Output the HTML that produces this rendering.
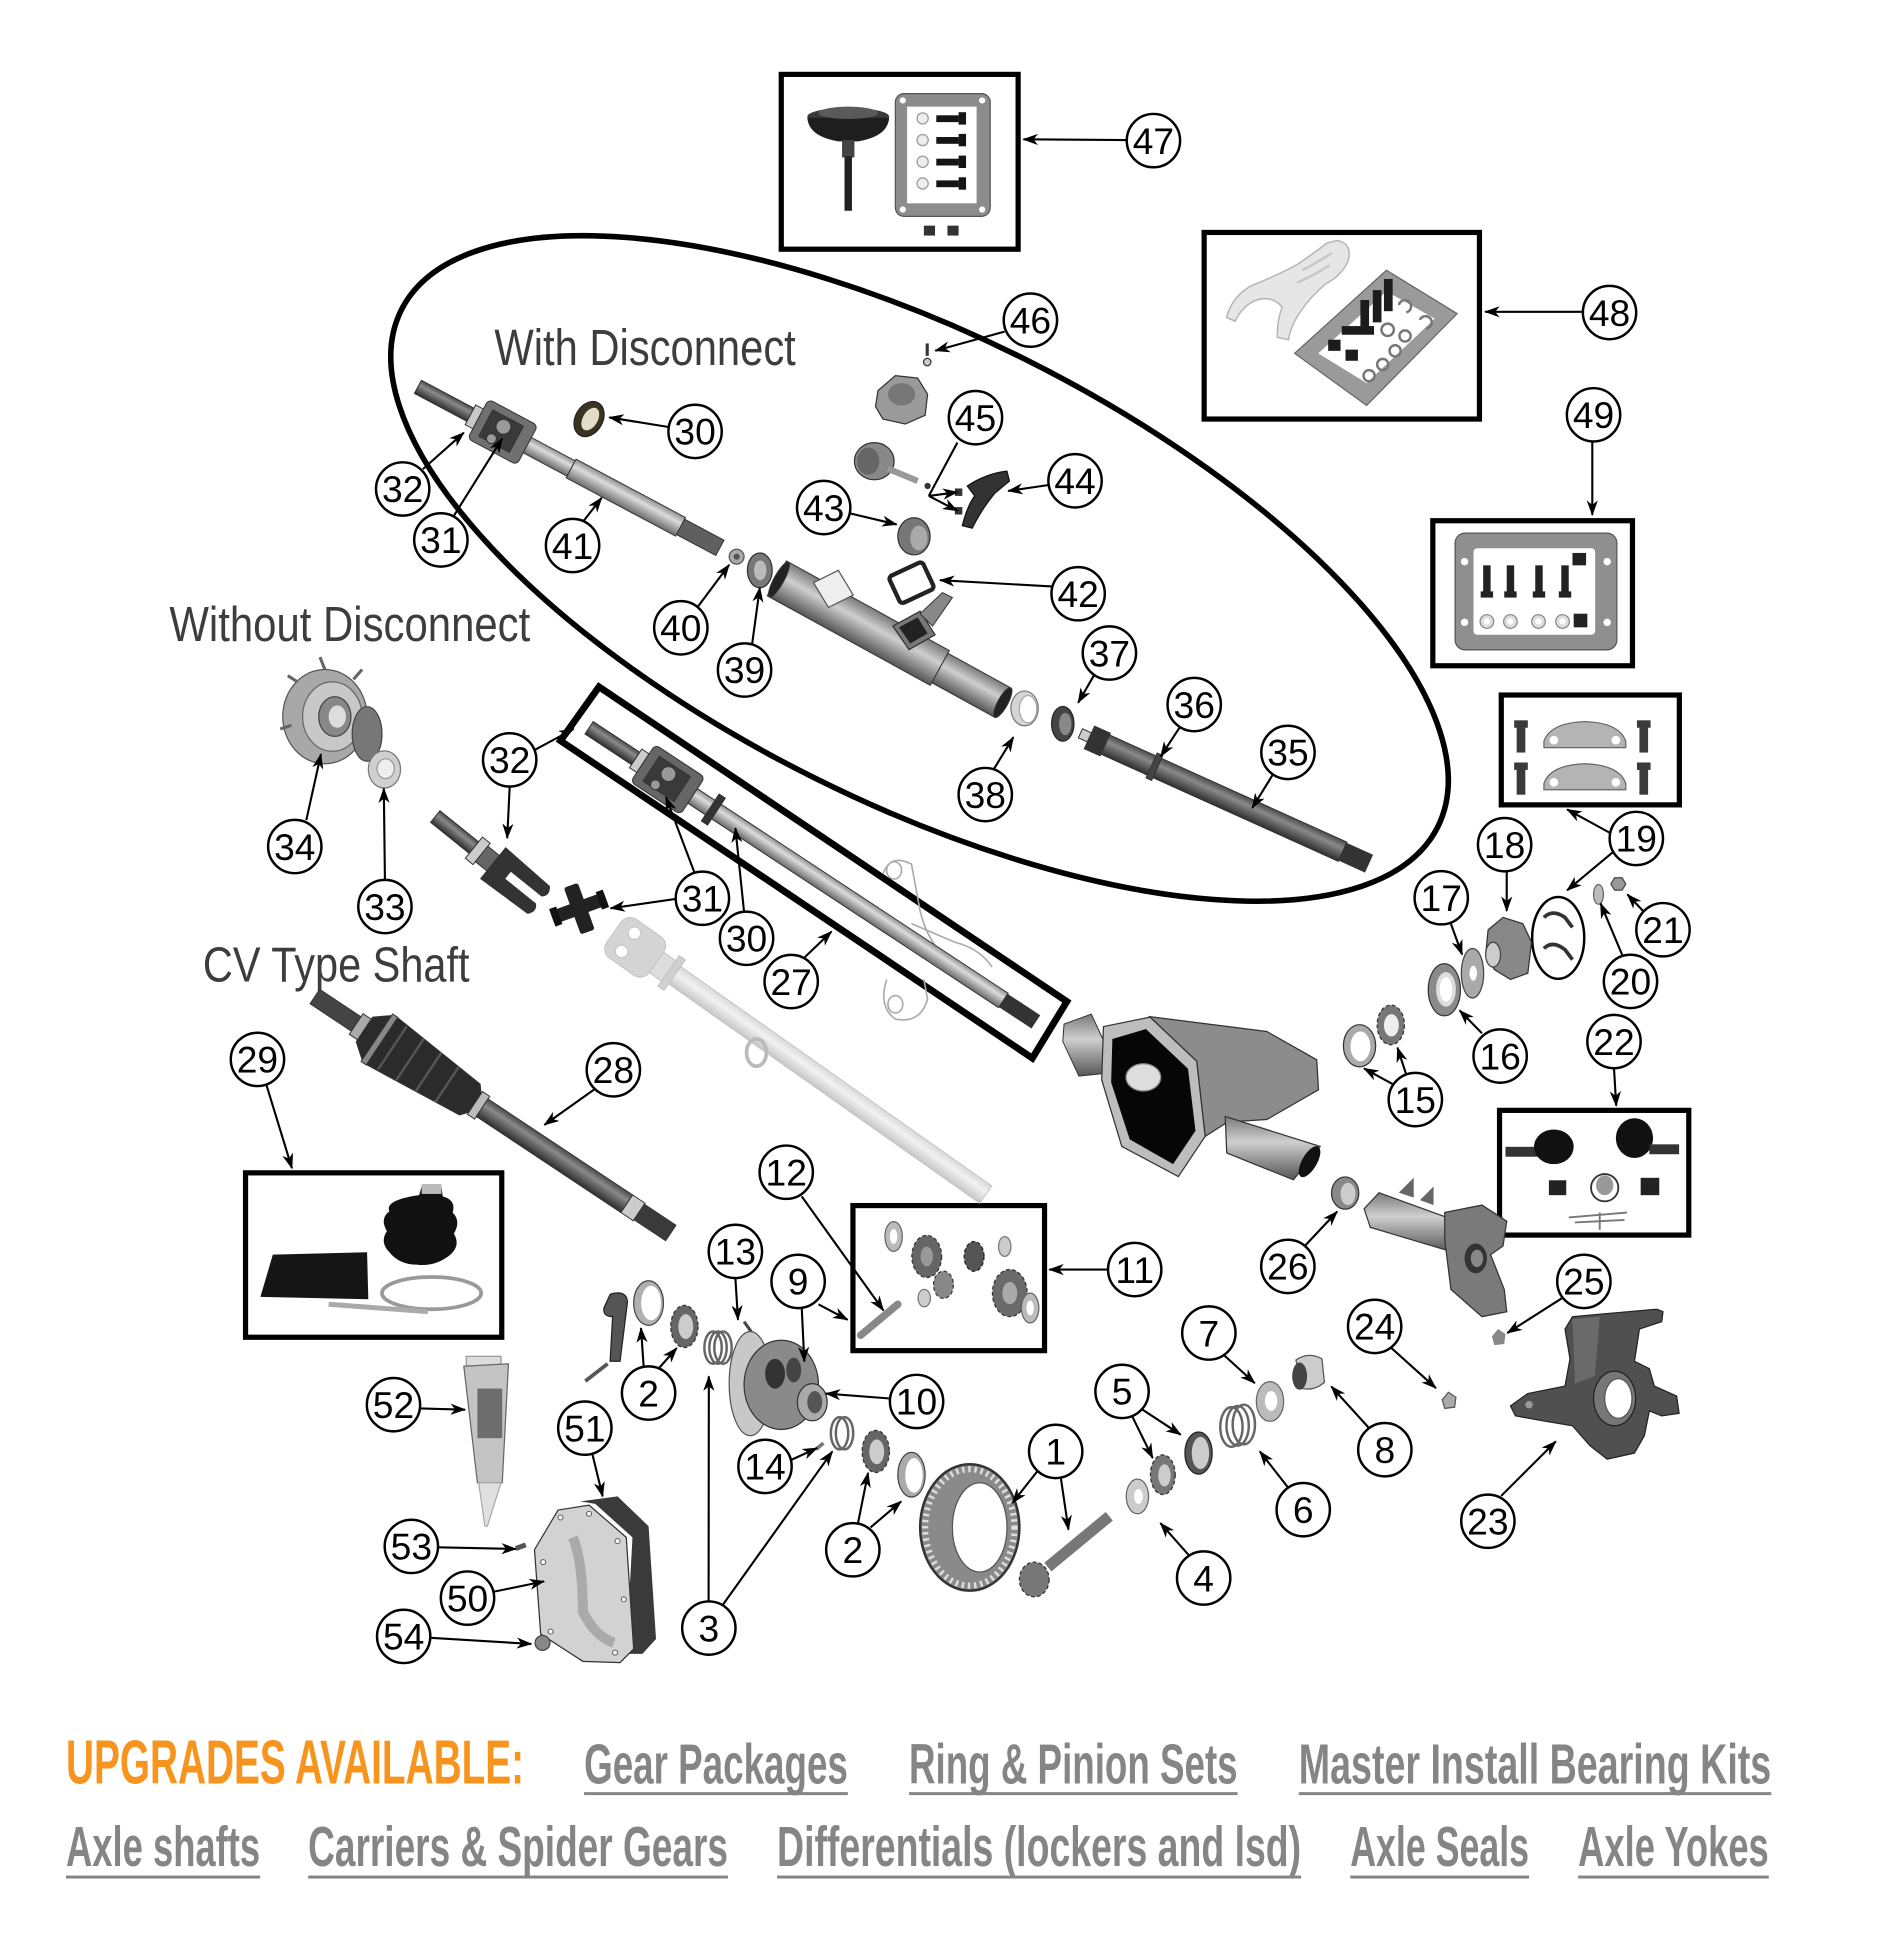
<!DOCTYPE html>
<html><head><meta charset="utf-8"><style>
html,body{margin:0;padding:0;background:#fff}
svg{display:block}
.c{fill:#fff;stroke:#000;stroke-width:2}
.t{font-family:"Liberation Sans",Arial,sans-serif;font-size:30px;text-anchor:middle;fill:#000}
.k{stroke:#000;stroke-width:1.7;fill:none;marker-end:url(#a)}
.k0{stroke:#000;stroke-width:1.7;fill:none}
.b{fill:none;stroke:#000;stroke-width:4.2}
.p{stroke:#333;stroke-width:.8}
.h{font-family:"Liberation Sans",Arial,sans-serif;fill:#3d3d3d}
.u{font-family:"Liberation Sans",Arial,sans-serif;font-weight:bold;font-size:46px;fill:#858585}
</style></head><body>
<svg width="1880" height="1944" viewBox="0 0 1516 1568" preserveAspectRatio="none" xmlns="http://www.w3.org/2000/svg">
<defs>
<marker id="a" viewBox="0 0 14 10" refX="13" refY="5" markerWidth="13" markerHeight="9" markerUnits="userSpaceOnUse" orient="auto"><path d="M0,0 L14,5 L0,10 L4,5z" fill="#000"/></marker>
<linearGradient id="gM" x1="0" y1="0" x2="0" y2="1"><stop offset="0" stop-color="#8f8f8f"/><stop offset=".35" stop-color="#dcdcdc"/><stop offset="1" stop-color="#6a6a6a"/></linearGradient>
<linearGradient id="gD" x1="0" y1="0" x2="0" y2="1"><stop offset="0" stop-color="#4a4a4a"/><stop offset=".35" stop-color="#8a8a8a"/><stop offset="1" stop-color="#2e2e2e"/></linearGradient>
<linearGradient id="gK" x1="0" y1="0" x2="0" y2="1"><stop offset="0" stop-color="#1a1a1a"/><stop offset=".4" stop-color="#4a4a4a"/><stop offset="1" stop-color="#0a0a0a"/></linearGradient>
<linearGradient id="gL" x1="0" y1="0" x2="0" y2="1"><stop offset="0" stop-color="#d8d8d8"/><stop offset=".4" stop-color="#f2f2f2"/><stop offset="1" stop-color="#c6c6c6"/></linearGradient>
<linearGradient id="gT" x1="0" y1="0" x2="0" y2="1"><stop offset="0" stop-color="#7a7a7a"/><stop offset=".4" stop-color="#cfcfcf"/><stop offset="1" stop-color="#555"/></linearGradient>
</defs>

<!-- Big ellipse -->
<ellipse cx="741.5" cy="458.5" rx="467" ry="189" transform="rotate(26.5 741.5 458.5)" fill="none" stroke="#000" stroke-width="4.5"/>

<!-- Headings -->
<text class="h" x="398.7" y="294.6" font-size="41" textLength="243" lengthAdjust="spacingAndGlyphs">With Disconnect</text>
<text class="h" x="136.6" y="517" font-size="40" textLength="291" lengthAdjust="spacingAndGlyphs">Without Disconnect</text>
<text class="h" x="163.6" y="791.7" font-size="40" textLength="215" lengthAdjust="spacingAndGlyphs">CV Type Shaft</text>

<!-- Box 47 -->
<rect class="b" x="630" y="60" width="191" height="141"/>
<ellipse cx="684" cy="94" rx="33" ry="7" fill="#3a3a3a"/>
<path d="M651,95 Q652,110 676,114 L692,114 Q716,110 717,95 Z" fill="#1e1e1e"/>
<ellipse cx="684" cy="91" rx="24" ry="5" fill="#5a5a5a"/>
<rect x="679" y="113" width="10" height="14" fill="#444"/>
<rect x="681" y="126" width="6" height="44" fill="#222"/>
<rect x="722" y="75.5" width="76.5" height="99" rx="7" fill="#8c8c8c" stroke="#555"/>
<rect x="731.5" y="86" width="56" height="78" fill="#fff"/>
<circle cx="728" cy="81" r="2.5" fill="#fff"/><circle cx="792" cy="81" r="2.5" fill="#fff"/><circle cx="728" cy="169" r="2.5" fill="#fff"/><circle cx="792" cy="169" r="2.5" fill="#fff"/>
<g fill="#151515">
<rect x="755" y="93" width="18" height="5.5"/><rect x="773" y="90.5" width="6" height="10"/>
<rect x="755" y="110.5" width="18" height="5.5"/><rect x="773" y="108" width="6" height="10"/>
<rect x="755" y="128" width="18" height="5.5"/><rect x="773" y="125.5" width="6" height="10"/>
<rect x="755" y="145.5" width="18" height="5.5"/><rect x="773" y="143" width="6" height="10"/>
</g>
<g fill="#eee" stroke="#999"><circle cx="744" cy="95.5" r="4.5"/><circle cx="744" cy="113" r="4.5"/><circle cx="744" cy="130.5" r="4.5"/><circle cx="744" cy="148" r="4.5"/></g>
<rect x="745" y="182" width="9" height="8" fill="#333"/><rect x="764" y="182" width="9" height="8" fill="#333"/>

<!-- Box 48 -->
<rect class="b" x="971" y="187.5" width="222" height="150.5"/>
<path d="M1078,194 Q1091,196 1087,211 Q1081,223 1069,229 Q1056,240 1049,251 Q1041,262 1039,274 L1030,272 Q1030,257 1034,248 Q1028,240 1018,241 Q1004,243 996,259 L989,256 Q994,238 1010,230 Q1030,222 1045,214 Q1060,204 1070,196 Z" fill="#e6e6e6" stroke="#b5b5b5" stroke-width="1.2"/>
<path d="M1050,218 Q1062,212 1074,204 M1046,228 Q1060,222 1072,214" stroke="#c8c8c8" stroke-width="2" fill="none"/>
<polygon points="1044,285 1118,218 1175,253 1102,327" fill="#9a9a9a" stroke="#666"/>
<polygon points="1063,285 1118,235 1157,257 1102,309" fill="#fff"/>
<g fill="#1c1c1c"><rect x="1097" y="242" width="7" height="26"/><rect x="1107" y="234" width="7" height="26"/><rect x="1116" y="225" width="7" height="26"/><rect x="1082" y="263" width="26" height="7"/><rect x="1071" y="274" width="10" height="9"/><rect x="1085" y="282" width="10" height="9"/></g>
<g fill="none" stroke="#777" stroke-width="2"><circle cx="1119" cy="266" r="5"/><circle cx="1133" cy="271" r="4.5"/><circle cx="1125" cy="283" r="4.5"/><circle cx="1115" cy="294" r="4.5"/><circle cx="1104" cy="303" r="4.5"/><path d="M1128,246 a5,5 0 1 1 6,6"/><path d="M1145,258 a5,5 0 1 1 5,7"/></g>

<!-- Box 49 -->
<rect class="b" x="1155.4" y="420" width="161" height="117"/>
<rect x="1173.4" y="430" width="130.4" height="94.2" rx="8" fill="#8f8f8f" stroke="#555"/>
<rect x="1188.2" y="442.2" width="98.1" height="69.8" rx="3" fill="#fff"/>
<g fill="#fff"><circle cx="1181" cy="453" r="3"/><circle cx="1296" cy="453" r="3"/><circle cx="1181" cy="502" r="3"/><circle cx="1296" cy="502" r="3"/></g>
<g fill="#222"><rect x="1196" y="456" width="6" height="22"/><rect x="1194" y="477" width="10" height="5"/><rect x="1215" y="456" width="6" height="22"/><rect x="1213" y="477" width="10" height="5"/><rect x="1238" y="456" width="6" height="22"/><rect x="1236" y="477" width="10" height="5"/><rect x="1259" y="456" width="6" height="22"/><rect x="1257" y="477" width="10" height="5"/><rect x="1268" y="446" width="11" height="10"/><rect x="1269" y="495" width="11" height="11"/></g>
<g fill="#ddd" stroke="#888"><circle cx="1199" cy="501.3" r="5.5"/><circle cx="1218" cy="501.3" r="5.5"/><circle cx="1240.6" cy="501.3" r="5.5"/><circle cx="1260" cy="501.3" r="5.5"/></g>
<g fill="#fff"><circle cx="1199" cy="501.3" r="2.5"/><circle cx="1218" cy="501.3" r="2.5"/><circle cx="1240.6" cy="501.3" r="2.5"/><circle cx="1260" cy="501.3" r="2.5"/></g>

<!-- Box 19 -->
<rect class="b" x="1210.6" y="560.6" width="143.6" height="88.6"/>
<g fill="#b4b4b4" stroke="#666">
<path d="M1245,598 Q1250,583 1278,582 Q1306,583 1311,598 L1311,603 L1245,603 Z"/>
<path d="M1245,632 Q1250,617 1278,616 Q1306,617 1311,632 L1311,637 L1245,637 Z"/>
</g>
<g fill="#fff"><circle cx="1253" cy="597" r="3.5"/><circle cx="1303" cy="597" r="3.5"/><circle cx="1253" cy="631" r="3.5"/><circle cx="1303" cy="631" r="3.5"/></g>
<g fill="#3a3a3a"><rect x="1223" y="582" width="7" height="25"/><rect x="1221" y="581" width="11" height="6"/><rect x="1223" y="616" width="7" height="25"/><rect x="1221" y="615" width="11" height="6"/><rect x="1322" y="582" width="7" height="25"/><rect x="1320" y="581" width="11" height="6"/><rect x="1322" y="616" width="7" height="25"/><rect x="1320" y="615" width="11" height="6"/></g>

<!-- Box 22 -->
<rect class="b" x="1209.2" y="895.6" width="152.6" height="100.6"/>
<rect x="1214" y="925" width="26" height="8" fill="#333"/>
<ellipse cx="1253" cy="925" rx="16" ry="14" fill="#111"/>
<ellipse cx="1318" cy="918" rx="15" ry="16" fill="#111"/>
<rect x="1330" y="923" width="24" height="8" fill="#333"/>
<rect x="1249" y="952" width="14" height="12" fill="#222"/>
<rect x="1323" y="950" width="15" height="14" fill="#222"/>
<circle cx="1294" cy="958" r="11" fill="none" stroke="#333" stroke-width="1.5"/>
<ellipse cx="1294" cy="956" rx="7" ry="8" fill="#999"/>
<path d="M1265,982 L1312,978 M1270,986 L1310,984 M1290,978 L1290,992" stroke="#777" stroke-width="1.5" fill="none"/>

<!-- Box 11 -->
<rect class="b" x="687.8" y="972.4" width="154.5" height="117"/>
<ellipse cx="720.6" cy="997.3" rx="7" ry="12" fill="#bbb" stroke="#666"/><ellipse cx="720.6" cy="997.3" rx="3" ry="6" fill="#fff"/>
<ellipse cx="747.3" cy="1013.4" rx="12" ry="17" fill="#666" stroke="#333" stroke-dasharray="3 2"/><ellipse cx="747.3" cy="1013.4" rx="5" ry="8" fill="#999"/>
<ellipse cx="760.8" cy="1036.3" rx="8" ry="11" fill="#888" stroke="#333" stroke-dasharray="3 2"/>
<ellipse cx="745.3" cy="1047" rx="5" ry="7" fill="#ccc" stroke="#777"/>
<ellipse cx="785.5" cy="1013.4" rx="8" ry="12" fill="#555" stroke="#222" stroke-dasharray="3 2"/>
<ellipse cx="810.2" cy="1005.4" rx="5" ry="8" fill="#ccc" stroke="#777"/>
<ellipse cx="814.3" cy="1043" rx="14" ry="19" fill="#6a6a6a" stroke="#333" stroke-dasharray="3 2"/><ellipse cx="814.3" cy="1043" rx="6" ry="9" fill="#aaa"/>
<ellipse cx="830.7" cy="1055" rx="7" ry="12" fill="#bbb" stroke="#666"/><ellipse cx="830.7" cy="1055" rx="3" ry="6" fill="#fff"/>
<line x1="694" y1="1077" x2="724" y2="1052" stroke="#888" stroke-width="6" stroke-linecap="round"/>

<!-- Box 29 -->
<rect class="b" x="198" y="946" width="206.6" height="132.6"/>
<path d="M340,957 L356,957 L357,965 Q368,968 365,978 Q372,985 366,995 Q372,1005 362,1013 Q350,1022 336,1020 Q322,1020 314,1010 Q306,1002 312,993 Q306,983 314,977 Q310,968 338,964 Z" fill="#111"/>
<rect x="340" y="955" width="16" height="8" fill="#bbb"/>
<path d="M210,1046 L220,1012 L296,1010 L297,1048 Z" fill="#151515"/>
<ellipse cx="348" cy="1043" rx="40" ry="13" fill="none" stroke="#999" stroke-width="3"/>
<path d="M265,1052 L345,1058" stroke="#aaa" stroke-width="4"/>

<!-- Box 27 (rotated) -->
<polygon points="452,597.5 483,554 860.3,807.8 832.5,853.5" fill="none" stroke="#000" stroke-width="5.5"/>

<!-- ghost outlines -->
<g fill="none" stroke="#aaa" stroke-width="1.3">
<path d="M712,705 Q718,688 735,697 L742,735 Q748,760 765,775 L790,795"/>
<path d="M715,790 Q708,812 722,822 Q742,826 748,806 L745,790"/>
<path d="M735,745 L770,760 Q790,765 800,780"/>
<ellipse cx="721" cy="702" rx="6" ry="7"/><ellipse cx="722" cy="810" rx="6" ry="7"/>
</g>

<!-- Shaft 41 -->
<g transform="translate(337,312) rotate(28.07)" class="p">
<rect x="0" y="-6" width="48" height="12" fill="url(#gD)"/>
<rect x="48" y="-9" width="7" height="18" fill="#c9c9c9"/>
<rect x="55" y="-18" width="45" height="36" rx="4" fill="#707070"/>
<rect x="62" y="-12" width="28" height="24" fill="#3a3a3a"/>
<circle cx="76" cy="-4" r="6" fill="#9a9a9a"/>
<circle cx="72" cy="9" r="4" fill="#9a9a9a"/>
<rect x="100" y="-7" width="40" height="14" fill="url(#gM)"/>
<rect x="140" y="-8.5" width="100" height="17" fill="url(#gM)"/>
<rect x="240" y="-7" width="36" height="14" fill="#5f5f5f"/>
</g>

<!-- Shaft 27 in box -->
<g transform="translate(475,587) rotate(33.36)" class="p">
<rect x="0" y="-6" width="45" height="12" fill="url(#gD)"/>
<rect x="45" y="-9" width="7" height="18" fill="#ccc"/>
<rect x="52" y="-18" width="48" height="36" rx="4" fill="#666"/>
<rect x="60" y="-12" width="30" height="24" fill="#3a3a3a"/>
<circle cx="74" cy="-4" r="6" fill="#999"/><circle cx="70" cy="9" r="4" fill="#999"/>
<rect x="100" y="-7" width="300" height="14" fill="url(#gM)"/>
<rect x="117" y="-13" width="6" height="26" fill="#333"/>
<rect x="400" y="-6" width="31" height="12" fill="#333"/>
</g>

<!-- Faded shaft -->
<g transform="translate(495,752) rotate(35.2)" stroke="#c4c4c4" stroke-width=".8">
<rect x="0" y="-19" width="42" height="38" rx="9" fill="#d4d4d4"/>
<circle cx="14" cy="-9" r="5" fill="#fff"/><circle cx="14" cy="9" r="5" fill="#fff"/>
<rect x="42" y="-10" width="12" height="20" fill="#ddd"/>
<rect x="54" y="-15" width="6" height="30" fill="#d0d0d0"/>
<rect x="60" y="-8.5" width="307" height="17" fill="url(#gL)"/>
</g>
<ellipse cx="610" cy="849" rx="8" ry="11" fill="none" stroke="#bbb" stroke-width="3"/>

<!-- CV shaft 28 -->
<g transform="translate(253.9,803.8) rotate(33.6)" class="p">
<rect x="0" y="-7" width="40" height="14" fill="#444"/>
<rect x="40" y="-10" width="8" height="20" fill="#aaa"/>
<path d="M48,-12 L62,-23 L150,-15 L155,-9 L155,9 L150,15 L62,23 L48,12 Z" fill="#2b2b2b"/>
<g stroke="#555" stroke-width="2"><line x1="75" y1="-21" x2="75" y2="21"/><line x1="92" y1="-20" x2="92" y2="20"/><line x1="110" y1="-19" x2="110" y2="19"/><line x1="128" y1="-17" x2="128" y2="17"/></g>
<rect x="60" y="-23" width="5" height="46" fill="#888"/>
<rect x="155" y="-11" width="7" height="22" fill="#bbb"/>
<rect x="162" y="-8.5" width="140" height="17" fill="url(#gD)"/>
<rect x="302" y="-8.5" width="12" height="17" fill="#ccc"/>
<rect x="314" y="-7.5" width="30.6" height="15" fill="#3a3a3a"/>
</g>

<!-- Shaft 35 -->
<g transform="translate(871.2,591.5) rotate(24.3)" class="p">
<rect x="0" y="-4" width="8" height="8" fill="#ccc"/>
<rect x="8" y="-10" width="14" height="20" fill="#333"/>
<rect x="22" y="-8.5" width="210" height="17" fill="url(#gD)"/>
<rect x="63" y="-11" width="5" height="22" fill="#444"/>
<rect x="232" y="-7.5" width="23" height="15" fill="#333"/>
</g>

<!-- Tube housing in ellipse -->
<g transform="translate(626.4,466.5) rotate(28.8)" class="p">
<rect x="0" y="-16" width="150" height="32" fill="url(#gT)"/>
<rect x="150" y="-13.5" width="58" height="27" fill="url(#gT)"/>
<ellipse cx="2" cy="0" rx="4" ry="16" fill="#222"/>
<ellipse cx="208" cy="0" rx="4" ry="13.5" fill="#222"/>
</g>
<polygon points="656,470 676,460 688,480 668,490" fill="#eee" stroke="#555"/>
<polygon points="720,505 742,493 754,512 733,524" fill="#777" stroke="#333"/>
<polygon points="725,506 740,498 748,511 734,519" fill="#222"/>
<path d="M742,495 L760,478 L768,482 L752,505 Z" fill="#888" stroke="#333" stroke-width=".8"/>

<!-- parts inside ellipse -->
<ellipse cx="475" cy="338" rx="11" ry="15" transform="rotate(30 475 338)" fill="#3b3222" stroke="#222"/>
<ellipse cx="476" cy="338" rx="6" ry="10" transform="rotate(30 476 338)" fill="#e2dcc8"/>
<circle cx="594" cy="449" r="6" fill="#aaa" stroke="#555"/><circle cx="594" cy="449" r="2.5" fill="#555"/>
<ellipse cx="612.7" cy="460" rx="10" ry="14" fill="#777" stroke="#333"/><ellipse cx="613" cy="460" rx="5" ry="8" fill="#bbb"/>
<line x1="747.7" y1="277" x2="747.7" y2="287" stroke="#333" stroke-width="2.5"/><circle cx="747.7" cy="292" r="3" fill="#ccc" stroke="#333"/>
<path d="M708,315 L722,303 L740,305 L748,318 L746,335 L730,342 L712,338 L706,328 Z" fill="#9a9a9a" stroke="#333"/>
<ellipse cx="727" cy="318" rx="11" ry="9" fill="#777"/>
<ellipse cx="705" cy="372" rx="16" ry="15" fill="#888" stroke="#333"/>
<ellipse cx="700" cy="372" rx="9" ry="11" fill="#666"/>
<line x1="716" y1="378" x2="740" y2="388" stroke="#999" stroke-width="5"/>
<circle cx="748" cy="392" r="2.5" fill="#333"/>
<ellipse cx="737" cy="432.6" rx="13" ry="15" fill="#777" stroke="#333"/>
<ellipse cx="741" cy="434" rx="7" ry="10" fill="#aaa"/>
<path d="M780,392 Q795,382 812,380 L814,388 L802,398 Q792,410 784,426 L776,424 Q780,408 786,400 Z" fill="#333" stroke="#111"/>
<rect x="770" y="394" width="6" height="6" fill="#333"/><rect x="770" y="409" width="6" height="6" fill="#333"/>
<rect x="720" y="458" width="30" height="24" rx="3" transform="rotate(-25 735 470)" fill="none" stroke="#222" stroke-width="3.5"/>
<ellipse cx="826.2" cy="571.4" rx="11" ry="14" fill="#d5d5d5" stroke="#777"/><ellipse cx="829" cy="572" rx="7" ry="11" fill="#fff" stroke="#aaa"/>
<ellipse cx="857" cy="583.8" rx="9" ry="14" fill="#444" stroke="#222"/><ellipse cx="859" cy="584" rx="5" ry="9" fill="#888"/>

<!-- Hub 34 / 33 -->
<ellipse cx="262" cy="578" rx="34" ry="38" fill="#a8a8a8" stroke="#555"/>
<ellipse cx="268" cy="578" rx="24" ry="28" fill="#c8c8c8" stroke="#666"/>
<ellipse cx="270" cy="578" rx="13" ry="16" fill="#888" stroke="#444"/>
<ellipse cx="272" cy="578" rx="7" ry="9" fill="#ddd"/>
<g stroke="#666" stroke-width="2.5"><line x1="240" y1="550" x2="232" y2="545"/><line x1="262" y1="540" x2="258" y2="530"/><line x1="285" y1="548" x2="292" y2="540"/><line x1="235" y1="585" x2="226" y2="588"/></g>
<ellipse cx="296" cy="592" rx="12" ry="22" fill="#777" stroke="#444"/>
<ellipse cx="310" cy="620.6" rx="13" ry="15" fill="#d0d0d0" stroke="#777"/><ellipse cx="311" cy="620" rx="7" ry="8" fill="#eee" stroke="#999"/>

<!-- yoke stub 32 & u-joint 31 -->
<g transform="translate(351,658.6) rotate(38.9)" class="p">
<rect x="0" y="-6" width="40" height="12" fill="url(#gD)"/>
<rect x="40" y="-11" width="8" height="22" fill="#ccc"/>
<rect x="48" y="-8" width="12" height="16" fill="#666"/>
<path d="M60,-16 L107,-14 Q112,-8 107,-4 L75,-4 L75,4 L107,4 Q112,8 107,14 L60,16 Z" fill="#333"/>
</g>
<g transform="rotate(-20 466.8 732.6)">
<rect x="444" y="727" width="46" height="11" rx="2" fill="#222"/>
<rect x="461" y="713" width="12" height="40" rx="2" fill="#222"/>
<rect x="444" y="725" width="6" height="15" fill="#111"/><rect x="484" y="725" width="6" height="15" fill="#111"/>
</g>

<!-- Center housing -->
<polygon points="858,826 880,818 893,846 889,866 870,868 857,840" fill="url(#gT)" stroke="#333" stroke-width=".8"/>
<polygon points="927,820 1021.5,832 1061.8,854.8 1063.2,879 1021.5,903 990,905 971.8,916.6 965,856" fill="#8c8c8c" stroke="#333"/>
<polygon points="988,900.5 1064.5,924.7 1043,951.6 989.2,930" fill="url(#gT)" stroke="#333"/>
<ellipse cx="1056" cy="937" rx="6" ry="14" transform="rotate(30 1056 937)" fill="#111"/>
<polygon points="889.8,828 927.4,820.4 965,856 971.8,916.6 950.2,949 904.6,924.7 888.4,871" fill="#bdbdbd" stroke="#333"/>
<polygon points="897,838 924,830 958,862 964,912 946,939 911,919 896,873" fill="#060606"/>
<ellipse cx="922" cy="869" rx="14" ry="11" fill="#ddd" stroke="#888"/>

<!-- 15-21 parts -->
<ellipse cx="1256.5" cy="756.5" rx="21" ry="33" fill="#fff" stroke="#000" stroke-width="2"/>
<path d="M1245,740 Q1252,733 1262,740 L1268,748 M1245,765 Q1252,758 1262,766 L1268,774" stroke="#333" stroke-width="3" fill="none"/>
<polygon points="1200,750 1212,740 1228,745 1235,760 1232,785 1218,790 1205,782 1198,770" fill="#888" stroke="#333"/>
<ellipse cx="1204" cy="770" rx="6" ry="10" fill="#ccc" stroke="#444"/>
<ellipse cx="1187.4" cy="785" rx="9" ry="20" fill="#aaa" stroke="#444"/><ellipse cx="1188" cy="785" rx="3" ry="6" fill="#fff"/>
<ellipse cx="1164.7" cy="798.3" rx="13" ry="21" fill="#8a8a8a" stroke="#333"/><ellipse cx="1166" cy="798" rx="8" ry="14" fill="#ddd"/><ellipse cx="1166" cy="798" rx="5" ry="10" fill="#fff"/>
<ellipse cx="1096.3" cy="843.5" rx="13" ry="17" fill="#aaa" stroke="#333"/><ellipse cx="1097" cy="844" rx="8" ry="12" fill="#fff"/>
<ellipse cx="1121.5" cy="826.7" rx="11" ry="16" fill="#777" stroke="#333" stroke-dasharray="3 2"/><ellipse cx="1122" cy="827" rx="6" ry="9" fill="#eee"/>
<ellipse cx="1289" cy="721.4" rx="4" ry="8" fill="#bbb" stroke="#666"/>
<polygon points="1299,713 1302,708 1308,708 1311,713 1308,718 1302,718" fill="#999" stroke="#444"/>

<!-- 26 & knuckle C -->
<ellipse cx="1084.7" cy="962.3" rx="11" ry="13" fill="#888" stroke="#333"/><ellipse cx="1087" cy="963" rx="6" ry="9" fill="#ccc"/>
<polygon points="1100,975 1112,962 1175,985 1172,1010 1105,990" fill="url(#gT)" stroke="#333"/>
<path d="M1128,962 L1140,950 L1140,966 Z M1145,968 L1156,957 L1156,972 Z" fill="#666"/>
<polygon points="1165,978 1195,972 1215,985 1212,1005 1202,1012 1213,1040 1215,1058 1195,1062 1170,1040 1165,1000" fill="#7a7a7a" stroke="#333"/>
<ellipse cx="1190" cy="1015" rx="9" ry="12" fill="#333"/><ellipse cx="1191" cy="1015" rx="5" ry="7" fill="#888"/>

<!-- 23 steering knuckle -->
<path d="M1262,1072 L1268,1062 L1290,1060 L1336,1056 L1341,1058 L1340,1066 L1322,1072 L1318,1098 L1330,1104 L1334,1118 L1352,1126 L1354,1140 L1340,1142 L1330,1138 L1326,1158 L1318,1172 L1296,1177 L1282,1166 L1268,1150 L1244,1146 L1222,1142 L1218,1134 L1232,1124 L1262,1118 L1266,1096 Z" fill="#505050" stroke="#222"/>
<path d="M1268,1064 L1290,1062 L1286,1110 L1270,1116 Z" fill="#6a6a6a"/>
<ellipse cx="1302" cy="1128" rx="17" ry="22" fill="#777" stroke="#222"/>
<ellipse cx="1305" cy="1128" rx="11" ry="16" fill="#fff" stroke="#555"/>
<circle cx="1233" cy="1133" r="3" fill="#999"/>
<polygon points="1203,1078 1208,1072 1214,1076 1213,1084 1205,1085" fill="#888"/>
<polygon points="1163,1129 1168,1123 1174,1127 1173,1135 1165,1136" fill="#aaa" stroke="#555"/>

<!-- Lower parts -->
<path d="M492,1044 Q505,1040 506,1050 L500,1098 L492,1098 L494,1062 Q486,1062 487,1055 Z" fill="#555" stroke="#222"/>
<line x1="472" y1="1114" x2="490" y2="1100" stroke="#555" stroke-width="3"/>
<ellipse cx="523" cy="1051" rx="12" ry="18" fill="#b0b0b0" stroke="#444"/><ellipse cx="525" cy="1051" rx="8" ry="14" fill="#fff"/>
<ellipse cx="551.9" cy="1069.9" rx="11" ry="17" fill="#666" stroke="#333" stroke-dasharray="3 2"/><ellipse cx="553" cy="1070" rx="6" ry="10" fill="#ccc"/>
<g fill="none" stroke="#666" stroke-width="2"><ellipse cx="575" cy="1087" rx="7" ry="13"/><ellipse cx="579" cy="1087" rx="7" ry="13"/><ellipse cx="583" cy="1087" rx="7" ry="13"/></g>
<path d="M600,1066 L605,1073 L608,1078" stroke="#444" stroke-width="2.5" fill="none"/>
<ellipse cx="605" cy="1116" rx="17" ry="42" fill="#c8c8c8" stroke="#555"/>
<ellipse cx="630" cy="1117" rx="30" ry="36" fill="#8a8a8a" stroke="#333"/>
<ellipse cx="625" cy="1108" rx="8" ry="12" fill="#333"/><ellipse cx="640" cy="1105" rx="6" ry="10" fill="#444"/>
<ellipse cx="655" cy="1131" rx="12" ry="15" fill="#aaa" stroke="#333"/><ellipse cx="657" cy="1131" rx="6" ry="9" fill="#555"/>
<line x1="658" y1="1169" x2="664" y2="1164" stroke="#777" stroke-width="3"/>
<g fill="none" stroke="#666" stroke-width="2"><ellipse cx="677" cy="1156" rx="7" ry="13"/><ellipse cx="681" cy="1156" rx="7" ry="13"/></g>
<ellipse cx="706.2" cy="1170.7" rx="11" ry="17" fill="#666" stroke="#333" stroke-dasharray="3 2"/><ellipse cx="707" cy="1171" rx="6" ry="10" fill="#ccc"/>
<ellipse cx="735" cy="1189.5" rx="11" ry="18" fill="#aaa" stroke="#444"/><ellipse cx="737" cy="1190" rx="7" ry="14" fill="#fff"/>
<ellipse cx="782" cy="1232" rx="40" ry="51" fill="#8a8a8a" stroke="#333" stroke-width="2"/>
<ellipse cx="782" cy="1232" rx="36" ry="47" fill="none" stroke="#ddd" stroke-width="5" stroke-dasharray="2 3"/>
<ellipse cx="790" cy="1232" rx="22" ry="36" fill="#fff" stroke="#555"/>
<line x1="894.5" y1="1223" x2="845" y2="1264" stroke="#777" stroke-width="9"/>
<ellipse cx="834" cy="1274" rx="12" ry="14" fill="#777" stroke="#333" stroke-dasharray="3 2"/>
<ellipse cx="917.2" cy="1207" rx="9" ry="14" fill="#ccc" stroke="#666"/><ellipse cx="918" cy="1207" rx="3.5" ry="6" fill="#fff"/>
<ellipse cx="937.7" cy="1189.5" rx="10" ry="16" fill="#777" stroke="#333" stroke-dasharray="3 2"/><ellipse cx="939" cy="1190" rx="5" ry="9" fill="#ccc"/>
<ellipse cx="966.5" cy="1172" rx="11" ry="17" fill="#555" stroke="#222"/><ellipse cx="968" cy="1172" rx="7" ry="13" fill="#ccc"/>
<g fill="none" stroke="#666" stroke-width="2"><ellipse cx="993" cy="1151" rx="9" ry="16"/><ellipse cx="998" cy="1150" rx="9" ry="16"/><ellipse cx="1003" cy="1149" rx="9" ry="16"/></g>
<ellipse cx="1024.1" cy="1130.4" rx="11" ry="16" fill="#bbb" stroke="#666"/><ellipse cx="1025" cy="1130" rx="5" ry="8" fill="#fff"/>
<path d="M1045,1097 Q1055,1090 1066,1096 L1068,1115 Q1060,1122 1050,1120 Z" fill="#ccc" stroke="#555"/>
<ellipse cx="1048" cy="1110" rx="6" ry="11" fill="#444"/>

<!-- cover 50/51, tube 52 -->
<polygon points="468,1211 498,1207 523,1231 529,1322 518,1334 505,1334 510,1240 480,1213" fill="#3a3a3a"/>
<polygon points="450,1218 475,1214 505,1240 511,1330 500,1341 470,1340 436,1318 431,1250" fill="#d2d2d2" stroke="#333"/>
<path d="M462,1240 Q470,1260 470,1300 Q480,1320 495,1325" stroke="#aaa" stroke-width="8" fill="none"/>
<g fill="#fff" stroke="#555" stroke-width=".8"><circle cx="452" cy="1224" r="2"/><circle cx="475" cy="1221" r="2"/><circle cx="498" cy="1243" r="2"/><circle cx="503" cy="1290" r="2"/><circle cx="496" cy="1333" r="2"/><circle cx="444" cy="1316" r="2"/><circle cx="438" cy="1260" r="2"/></g>
<rect x="376" y="1094" width="28" height="8" fill="#ddd" stroke="#999"/>
<polygon points="374,1102 410,1100 405,1196 385,1196" fill="#c4c4c4" stroke="#666"/>
<rect x="385" y="1120" width="20" height="40" fill="#333" opacity=".6"/>
<polygon points="386,1196 404,1196 393,1231 391,1231" fill="#e0e0e0" stroke="#aaa"/>
<path d="M416,1249 L424,1246" stroke="#555" stroke-width="4"/>
<circle cx="437.5" cy="1325.2" r="6" fill="#888" stroke="#444"/>

<!-- Connector lines -->
<line class="k" x1="908.6" y1="113" x2="825.3" y2="112.4"/>
<line class="k" x1="1275.5" y1="251.5" x2="1197.6" y2="251.5"/>
<line class="k" x1="1284" y1="356" x2="1284" y2="415.3"/>
<line class="k" x1="810" y1="267.5" x2="754.2" y2="282.9"/>
<line class="k0" x1="772" y1="357" x2="749" y2="400"/>
<line class="k" x1="749" y1="400" x2="772" y2="397"/>
<line class="k" x1="749" y1="400" x2="772" y2="412"/>
<line class="k" x1="847" y1="391" x2="813" y2="396"/>
<line class="k" x1="685" y1="414" x2="723" y2="423"/>
<line class="k" x1="848" y1="473" x2="758" y2="468"/>
<line class="k" x1="882" y1="545" x2="869.4" y2="566.8"/>
<line class="k" x1="952.2" y1="585.3" x2="936" y2="610"/>
<line class="k" x1="1026" y1="625.4" x2="1009.8" y2="651.7"/>
<line class="k" x1="801" y1="621" x2="817.2" y2="594.6"/>
<line class="k" x1="606.5" y1="519.5" x2="612.7" y2="474"/>
<line class="k" x1="563" y1="489" x2="588" y2="455.5"/>
<line class="k" x1="470.7" y1="420" x2="485.2" y2="401.5"/>
<line class="k" x1="366" y1="416" x2="405" y2="353.7"/>
<line class="k" x1="341" y1="378.4" x2="374" y2="349"/>
<line class="k" x1="539" y1="344.4" x2="491.3" y2="336.7"/>
<line class="k" x1="431" y1="605" x2="462.5" y2="588"/>
<line class="k" x1="411" y1="634.5" x2="409" y2="676"/>
<line class="k" x1="247" y1="661.5" x2="258.8" y2="608.3"/>
<line class="k" x1="310.4" y1="709.7" x2="309.5" y2="636"/>
<line class="k" x1="545.5" y1="725" x2="492.3" y2="732.6"/>
<line class="k" x1="560" y1="703.8" x2="537" y2="643"/>
<line class="k" x1="600" y1="735.5" x2="593" y2="668"/>
<line class="k" x1="649" y1="772" x2="670.5" y2="751.4"/>
<line class="k" x1="214.5" y1="874" x2="235.4" y2="942.2"/>
<line class="k" x1="480.7" y1="877.7" x2="439" y2="907.3"/>
<line class="k" x1="646.5" y1="965" x2="712.4" y2="1057"/>
<line class="k" x1="593" y1="1030.9" x2="595.1" y2="1064.5"/>
<line class="k" x1="660" y1="1052" x2="683.5" y2="1064.5"/>
<line class="k" x1="646.5" y1="1055" x2="648.6" y2="1098.1"/>
<line class="k" x1="893.5" y1="1024" x2="846.1" y2="1024"/>
<line class="k" x1="717.6" y1="1128" x2="666" y2="1124"/>
<line class="k" x1="519" y1="1102" x2="516.9" y2="1071.2"/>
<line class="k" x1="531" y1="1104" x2="545.7" y2="1087.3"/>
<line class="k" x1="638.3" y1="1177.4" x2="658.9" y2="1168"/>
<line class="k" x1="691.8" y1="1229" x2="700" y2="1188"/>
<line class="k" x1="702" y1="1232" x2="726.7" y2="1211"/>
<line class="k" x1="571.4" y1="1291.7" x2="571.6" y2="1110.2"/>
<line class="k" x1="583" y1="1294.3" x2="671.2" y2="1170.7"/>
<line class="k" x1="338.8" y1="1136" x2="375" y2="1137"/>
<line class="k" x1="477.8" y1="1173.4" x2="486" y2="1207"/>
<line class="k" x1="353.2" y1="1248" x2="416.1" y2="1249.4"/>
<line class="k" x1="397.5" y1="1284" x2="438.7" y2="1275.5"/>
<line class="k" x1="347" y1="1321" x2="428.4" y2="1326"/>
<line class="k" x1="836.9" y1="1186.2" x2="816.3" y2="1212.3"/>
<line class="k" x1="855.4" y1="1191.8" x2="861.6" y2="1233.8"/>
<line class="k" x1="958.3" y1="1254" x2="935.7" y2="1228.5"/>
<line class="k" x1="921.3" y1="1137" x2="952.1" y2="1157.2"/>
<line class="k" x1="913" y1="1142.4" x2="929.5" y2="1176"/>
<line class="k" x1="1038.5" y1="1199.6" x2="1015.9" y2="1170.7"/>
<line class="k" x1="987.2" y1="1093.2" x2="1011.8" y2="1115.6"/>
<line class="k" x1="1104" y1="1151.9" x2="1073.5" y2="1118.3"/>
<line class="k" x1="1122" y1="1087.3" x2="1157.9" y2="1119.6"/>
<line class="k" x1="1260.8" y1="1046.3" x2="1215.5" y2="1075.2"/>
<line class="k" x1="1210.5" y1="1206.6" x2="1254.6" y2="1162.6"/>
<line class="k" x1="1052.9" y1="1004.2" x2="1078.3" y2="977.2"/>
<line class="k" x1="1301.5" y1="861.6" x2="1303.3" y2="891.9"/>
<line class="k" x1="1125" y1="875.5" x2="1099.9" y2="861.8"/>
<line class="k" x1="1134" y1="866.8" x2="1126.9" y2="845"/>
<line class="k" x1="1195" y1="833.4" x2="1177" y2="815"/>
<line class="k" x1="1170" y1="745.2" x2="1179" y2="769.9"/>
<line class="k" x1="1215" y1="702.8" x2="1215" y2="734.8"/>
<line class="k" x1="1299.7" y1="672.6" x2="1263.7" y2="652.9"/>
<line class="k" x1="1300.7" y1="687.3" x2="1263.7" y2="718.1"/>
<line class="k" x1="1308.7" y1="771.6" x2="1290.7" y2="728.8"/>
<line class="k" x1="1325" y1="734.8" x2="1312.3" y2="721.4"/>

<!-- Number circles -->
<g>
<circle class="c" cx="930.1" cy="113.4" r="21.5"/><text class="t" x="930.1" y="124.1">47</text>
<circle class="c" cx="1297.9" cy="252.1" r="21.5"/><text class="t" x="1297.9" y="262.8">48</text>
<circle class="c" cx="1285" cy="334.6" r="21.5"/><text class="t" x="1285" y="345.3">49</text>
<circle class="c" cx="830.9" cy="258.2" r="21.5"/><text class="t" x="830.9" y="268.9">46</text>
<circle class="c" cx="786.6" cy="336.9" r="21.5"/><text class="t" x="786.6" y="347.6">45</text>
<circle class="c" cx="866.9" cy="387.8" r="21.5"/><text class="t" x="866.9" y="398.5">44</text>
<circle class="c" cx="664.2" cy="409.4" r="21.5"/><text class="t" x="664.2" y="420.1">43</text>
<circle class="c" cx="869.4" cy="478.9" r="21.5"/><text class="t" x="869.4" y="489.6">42</text>
<circle class="c" cx="894.6" cy="526.7" r="21.5"/><text class="t" x="894.6" y="537.4">37</text>
<circle class="c" cx="963" cy="568.3" r="21.5"/><text class="t" x="963" y="579">36</text>
<circle class="c" cx="1038.6" cy="606.9" r="21.5"/><text class="t" x="1038.6" y="617.6">35</text>
<circle class="c" cx="794.5" cy="640.9" r="21.5"/><text class="t" x="794.5" y="651.6">38</text>
<circle class="c" cx="600.4" cy="540.4" r="21.5"/><text class="t" x="600.4" y="551.1">39</text>
<circle class="c" cx="549" cy="506.4" r="21.5"/><text class="t" x="549" y="517.1">40</text>
<circle class="c" cx="461.7" cy="440" r="21.5"/><text class="t" x="461.7" y="450.7">41</text>
<circle class="c" cx="355.5" cy="435.5" r="21.5"/><text class="t" x="355.5" y="446.2">31</text>
<circle class="c" cx="324.7" cy="394.4" r="21.5"/><text class="t" x="324.7" y="405.1">32</text>
<circle class="c" cx="560.5" cy="348" r="21.5"/><text class="t" x="560.5" y="358.7">30</text>
<circle class="c" cx="411" cy="612.9" r="21.5"/><text class="t" x="411" y="623.6">32</text>
<circle class="c" cx="237.7" cy="682.8" r="21.5"/><text class="t" x="237.7" y="693.5">34</text>
<circle class="c" cx="310.4" cy="731.2" r="21.5"/><text class="t" x="310.4" y="741.9">33</text>
<circle class="c" cx="566.4" cy="724.5" r="21.5"/><text class="t" x="566.4" y="735.2">31</text>
<circle class="c" cx="602" cy="756.8" r="21.5"/><text class="t" x="602" y="767.5">30</text>
<circle class="c" cx="638" cy="791.7" r="21.5"/><text class="t" x="638" y="802.4">27</text>
<circle class="c" cx="207.6" cy="854.5" r="21.5"/><text class="t" x="207.6" y="865.2">29</text>
<circle class="c" cx="494.6" cy="862.9" r="21.5"/><text class="t" x="494.6" y="873.6">28</text>
<circle class="c" cx="634" cy="945.5" r="21.5"/><text class="t" x="634" y="956.2">12</text>
<circle class="c" cx="593" cy="1009.4" r="21.5"/><text class="t" x="593" y="1020.1">13</text>
<circle class="c" cx="643.6" cy="1033.6" r="21.5"/><text class="t" x="643.6" y="1044.3">9</text>
<circle class="c" cx="915" cy="1024" r="21.5"/><text class="t" x="915" y="1034.7">11</text>
<circle class="c" cx="1213.3" cy="681.3" r="21.5"/><text class="t" x="1213.3" y="692">18</text>
<circle class="c" cx="1319.5" cy="676.3" r="21.5"/><text class="t" x="1319.5" y="687">19</text>
<circle class="c" cx="1162.2" cy="724.1" r="21.5"/><text class="t" x="1162.2" y="734.8">17</text>
<circle class="c" cx="1341" cy="749.9" r="21.5"/><text class="t" x="1341" y="760.6">21</text>
<circle class="c" cx="1314.8" cy="791.6" r="21.5"/><text class="t" x="1314.8" y="802.3">20</text>
<circle class="c" cx="1209.7" cy="851.8" r="21.5"/><text class="t" x="1209.7" y="862.5">16</text>
<circle class="c" cx="1141.3" cy="886.9" r="21.5"/><text class="t" x="1141.3" y="897.6">15</text>
<circle class="c" cx="1301.5" cy="840.1" r="21.5"/><text class="t" x="1301.5" y="850.8">22</text>
<circle class="c" cx="1038.5" cy="1021.5" r="21.5"/><text class="t" x="1038.5" y="1032.2">26</text>
<circle class="c" cx="1277.2" cy="1033.6" r="21.5"/><text class="t" x="1277.2" y="1044.3">25</text>
<circle class="c" cx="1108.5" cy="1069.9" r="21.5"/><text class="t" x="1108.5" y="1080.6">24</text>
<circle class="c" cx="974.8" cy="1075.2" r="21.5"/><text class="t" x="974.8" y="1085.9">7</text>
<circle class="c" cx="1116.7" cy="1169.3" r="21.5"/><text class="t" x="1116.7" y="1180">8</text>
<circle class="c" cx="904.8" cy="1122.3" r="21.5"/><text class="t" x="904.8" y="1133">5</text>
<circle class="c" cx="1050.9" cy="1217.7" r="21.5"/><text class="t" x="1050.9" y="1228.4">6</text>
<circle class="c" cx="970.6" cy="1272.8" r="21.5"/><text class="t" x="970.6" y="1283.5">4</text>
<circle class="c" cx="851.3" cy="1170.7" r="21.5"/><text class="t" x="851.3" y="1181.4">1</text>
<circle class="c" cx="523" cy="1123.6" r="21.5"/><text class="t" x="523" y="1134.3">2</text>
<circle class="c" cx="739.1" cy="1130.4" r="21.5"/><text class="t" x="739.1" y="1141.1">10</text>
<circle class="c" cx="616.9" cy="1182.8" r="21.5"/><text class="t" x="616.9" y="1193.5">14</text>
<circle class="c" cx="687.7" cy="1250" r="21.5"/><text class="t" x="687.7" y="1260.7">2</text>
<circle class="c" cx="571.6" cy="1313.2" r="21.5"/><text class="t" x="571.6" y="1323.9">3</text>
<circle class="c" cx="317.3" cy="1133" r="21.5"/><text class="t" x="317.3" y="1143.7">52</text>
<circle class="c" cx="471.6" cy="1151.9" r="21.5"/><text class="t" x="471.6" y="1162.6">51</text>
<circle class="c" cx="331.7" cy="1247.3" r="21.5"/><text class="t" x="331.7" y="1258">53</text>
<circle class="c" cx="377" cy="1289" r="21.5"/><text class="t" x="377" y="1299.7">50</text>
<circle class="c" cx="325.5" cy="1319.9" r="21.5"/><text class="t" x="325.5" y="1330.6">54</text>
<circle class="c" cx="1199.8" cy="1227" r="21.5"/><text class="t" x="1199.8" y="1237.7">23</text>
</g>

<!-- Bottom links -->
<text x="53.2" y="1438.7" font-family="Liberation Sans, Arial, sans-serif" font-weight="bold" font-size="50" fill="#f7941d" textLength="369.4" lengthAdjust="spacingAndGlyphs">UPGRADES AVAILABLE:</text>
<text class="u" x="471" y="1438.7" textLength="212.7" lengthAdjust="spacingAndGlyphs">Gear Packages</text>
<text class="u" x="733" y="1438.7" textLength="265" lengthAdjust="spacingAndGlyphs">Ring &amp; Pinion Sets</text>
<text class="u" x="1047.3" y="1438.7" textLength="381" lengthAdjust="spacingAndGlyphs">Master Install Bearing Kits</text>
<g fill="#858585">
<rect x="471" y="1445.5" width="212.7" height="2.4"/>
<rect x="733" y="1445.5" width="265" height="2.4"/>
<rect x="1047.3" y="1445.5" width="381" height="2.4"/>
</g>
<text class="u" x="53.2" y="1505.2" textLength="156.6" lengthAdjust="spacingAndGlyphs">Axle shafts</text>
<text class="u" x="248.5" y="1505.2" textLength="338.5" lengthAdjust="spacingAndGlyphs">Carriers &amp; Spider Gears</text>
<text class="u" x="626.6" y="1505.2" textLength="422.6" lengthAdjust="spacingAndGlyphs">Differentials (lockers and lsd)</text>
<text class="u" x="1088.8" y="1505.2" textLength="144.2" lengthAdjust="spacingAndGlyphs">Axle Seals</text>
<text class="u" x="1272.6" y="1505.2" textLength="153.7" lengthAdjust="spacingAndGlyphs">Axle Yokes</text>
<g fill="#858585">
<rect x="53.2" y="1512.8" width="156.6" height="2.4"/>
<rect x="248.5" y="1512.8" width="338.5" height="2.4"/>
<rect x="626.6" y="1512.8" width="422.6" height="2.4"/>
<rect x="1088.8" y="1512.8" width="144.2" height="2.4"/>
<rect x="1272.6" y="1512.8" width="153.7" height="2.4"/>
</g>
</svg>
</body></html>
